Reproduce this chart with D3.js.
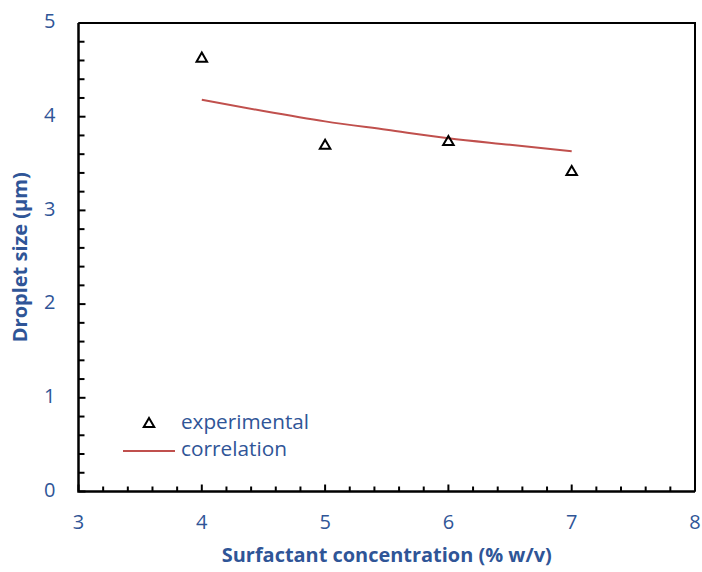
<!DOCTYPE html>
<html>
<head>
<meta charset="utf-8">
<script src="https://cdn.jsdelivr.net/npm/d3@7"></script>
<style>
  body { margin: 0; background: #fff; }
  text { font-family: "Open Sans", Lato, sans-serif; }
</style>
</head>
<body>
<div class="canvas"></div>
<script>
// data
const expX = [4, 5, 6, 7];
const expY = [4.62, 3.69, 3.73, 3.41];
const corrX = [4, 4.5, 5, 5.5, 6, 6.5, 7];
const corrY = [4.18, 4.06, 3.95, 3.86, 3.77, 3.70, 3.63];
const xTicks = [3, 4, 5, 6, 7, 8];
const yTicks = [0, 1, 2, 3, 4, 5];

// margins and dimensions
const w = 702;
const h = 572;
const margin = { top: 23, right: 7, bottom: 80.5, left: 78.5 };
const graphWidth = w - margin.left - margin.right;
const graphHeight = h - margin.top - margin.bottom;
const blue = "#2F5597";

const svg = d3.select(".canvas").append("svg").attr("width", w).attr("height", h);
const graph = svg.append("g").attr("transform", `translate(${margin.left}, ${margin.top})`);

const x = d3.scaleLinear().domain([3, 8]).range([0, graphWidth]);
const y = d3.scaleLinear().domain([0, 5]).range([graphHeight, 0]);

// frame: top and right border
graph.append("path")
  .attr("d", `M0,0H${graphWidth}V${graphHeight}`)
  .attr("fill", "none").attr("stroke", "#000").attr("stroke-width", 2);

// minor ticks every 0.2, pointing inward
const minorX = d3.range(3, 8.001, 0.2);
const minorY = d3.range(0, 5.001, 0.2);
const isMajor = (v) => Math.abs(v - Math.round(v)) < 1e-6;

graph.selectAll(".xtick").data(minorX).enter().append("line")
  .attr("x1", (d) => x(d)).attr("x2", (d) => x(d))
  .attr("y1", graphHeight).attr("y2", (d) => graphHeight - (isMajor(d) ? 7 : 5))
  .attr("stroke", "#000").attr("stroke-width", 2);

graph.selectAll(".ytick").data(minorY).enter().append("line")
  .attr("y1", (d) => y(d)).attr("y2", (d) => y(d))
  .attr("x1", 0).attr("x2", (d) => (isMajor(d) ? 7 : 6))
  .attr("stroke", "#000").attr("stroke-width", 2);

// main axis lines
graph.append("path")
  .attr("d", `M0,0V${graphHeight}H${graphWidth}`)
  .attr("fill", "none").attr("stroke", "#000").attr("stroke-width", 2.5);

// tick labels
graph.selectAll(".xlab").data(xTicks).enter().append("text")
  .attr("x", (d) => x(d)).attr("y", graphHeight + 32)
  .attr("text-anchor", "middle").attr("dominant-baseline", "middle")
  .attr("font-size", 20).attr("fill", blue).text((d) => d);

graph.selectAll(".ylab").data(yTicks).enter().append("text")
  .attr("x", -23).attr("y", (d) => y(d))
  .attr("text-anchor", "end").attr("dominant-baseline", "middle")
  .attr("font-size", 20).attr("fill", blue).text((d) => d);

// axis titles
svg.append("text")
  .attr("x", margin.left + graphWidth / 2).attr("y", 557)
  .attr("text-anchor", "middle").attr("dominant-baseline", "middle")
  .attr("font-size", 19).attr("font-weight", "bold").attr("fill", blue)
  .attr("textLength", 330).attr("lengthAdjust", "spacingAndGlyphs")
  .text("Surfactant concentration (% w/v)");

svg.append("text")
  .attr("transform", `translate(22, ${margin.top + graphHeight / 2}) rotate(-90)`)
  .attr("text-anchor", "middle").attr("dominant-baseline", "middle")
  .attr("font-size", 19).attr("font-weight", "bold").attr("fill", blue)
  .attr("textLength", 170).attr("lengthAdjust", "spacingAndGlyphs")
  .text("Droplet size (\u00B5m)");

// correlation line
const line = d3.line().x((d) => x(d[0])).y((d) => y(d[1])).curve(d3.curveMonotoneX);
graph.append("path")
  .datum(corrX.map((v, i) => [v, corrY[i]]))
  .attr("d", line)
  .attr("fill", "none").attr("stroke", "#C0504D").attr("stroke-width", 2);

// experimental points
const tri = d3.symbol().type(d3.symbolTriangle).size(48);
graph.selectAll(".pt").data(expX.map((v, i) => [v, expY[i]])).enter().append("path")
  .attr("d", tri)
  .attr("transform", (d) => `translate(${x(d[0])}, ${y(d[1])})`)
  .attr("fill", "none").attr("stroke", "#000").attr("stroke-width", 2);

// legend
const legend = svg.append("g");
legend.append("path").attr("d", tri)
  .attr("transform", "translate(149, 424)")
  .attr("fill", "none").attr("stroke", "#000").attr("stroke-width", 2);
legend.append("text").attr("x", 181).attr("y", 424)
  .attr("dominant-baseline", "middle").attr("font-size", 20).attr("fill", blue)
  .attr("textLength", 128).attr("lengthAdjust", "spacingAndGlyphs")
  .text("experimental");
legend.append("line").attr("x1", 123).attr("x2", 175).attr("y1", 451).attr("y2", 451)
  .attr("stroke", "#C0504D").attr("stroke-width", 2);
legend.append("text").attr("x", 181).attr("y", 451)
  .attr("dominant-baseline", "middle").attr("font-size", 20).attr("fill", blue)
  .attr("textLength", 106).attr("lengthAdjust", "spacingAndGlyphs")
  .text("correlation");
</script>
</body>
</html>
